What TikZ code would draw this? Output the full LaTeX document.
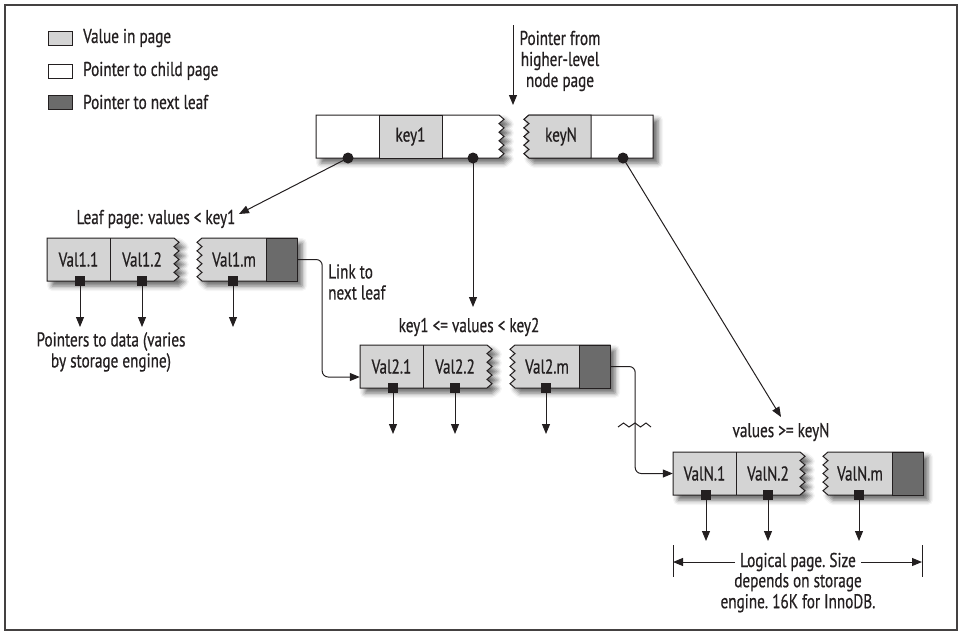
\documentclass[tikz,border=0pt]{standalone}
\usepackage{fontspec}
\setmainfont{PT Sans}[FakeStretch=0.76,FakeBold=0.6]
\usetikzlibrary{arrows.meta,shadows.blur,calc}
\definecolor{valfill}{gray}{0.83}
\definecolor{nextfill}{gray}{0.42}
\definecolor{ink}{HTML}{231F20}
\tikzset{
  every node/.style={font=\fontsize{20}{21}\selectfont, text=ink},
  ln/.style={draw=ink, line width=1pt},
  arr/.style={ln, -{Triangle[length=10pt,width=8pt]}},
  shad/.style={blur shadow={shadow xshift=5pt, shadow yshift=-5pt, shadow blur radius=5pt, shadow opacity=60}},
  cell/.style={minimum width=63pt, minimum height=43pt, inner sep=0pt},
  nextcell/.style={minimum width=31pt, minimum height=43pt, inner sep=0pt},
  sq/.style={fill=ink, minimum size=10pt, inner sep=0pt},
  pdot/.style={circle, fill=ink, minimum size=11pt, inner sep=0pt},
  legbox/.style={ln, minimum width=24pt, minimum height=14pt, inner sep=0pt},
  lbl/.style={inner sep=0pt},
}
\newcommand\leafpage[4]{%
  \draw[ln, fill=valfill, shad] (#2,#3) -- (#2+127,#3)
     \foreach \i in {1,...,10}{ -- ({#2+127+5*mod(\i,2)},{#3+4.3*\i}) } -- (#2,#3+43) -- cycle;
  \draw[ln, fill=valfill, shad] (#2+250,#3) -- (#2+155,#3)
     \foreach \i in {1,...,10}{ -- ({#2+155-5*mod(\i,2)},{#3+4.3*\i}) } -- (#2+250,#3+43) -- cycle;
  \draw[ln, fill=nextfill] (#2+219,#3) rectangle (#2+250,#3+43);
  \draw[ln] (#2+63,#3) -- (#2+63,#3+43);
  \node[cell] (#1a) at (#2+31.5,#3+21.5) {#4.1};
  \node[cell] (#1b) at (#2+95,#3+21.5) {#4.2};
  \node[cell] (#1m) at (#2+187,#3+21.5) {#4.m};
  \node[nextcell] (#1d) at (#2+234.5,#3+21.5) {};
  \node[sq] (#1s1) at (#2+33,#3+43) {};
  \node[sq] (#1s2) at (#2+95,#3+43) {};
  \node[sq] (#1s3) at (#2+186,#3+43) {};
  \coordinate (#1e1) at (#2+33,#3+89);
  \coordinate (#1e2) at (#2+95,#3+89);
  \coordinate (#1e3) at (#2+186,#3+89);
  \draw[arr] (#1s1) -- (#1e1);
  \draw[arr] (#1s2) -- (#1e2);
  \draw[arr] (#1s3) -- (#1e3);
}
\begin{document}
\begin{tikzpicture}[x=1pt,y=-1pt]
\useasboundingbox (0,0) rectangle (959,632);
\draw[line width=1.3pt, draw=ink!85] (5,5) rectangle (957,630);

% legend
\node[legbox, fill=valfill] (lb1) at (60,38) {};
\node[legbox, fill=white] (lb2) at (60,71) {};
\node[legbox, fill=nextfill] (lb3) at (60,102) {};
\node[lbl, anchor=west] (lg1) at (83,38) {Value in page};
\node[lbl, anchor=west] (lg2) at (83,71) {Pointer to child page};
\node[lbl, anchor=west] (lg3) at (83,102) {Pointer to next leaf};

% top node
\draw[ln, fill=white, shad] (316,115) -- (499,115)
   \foreach \i in {1,...,10}{ -- ({499+5*mod(\i,2)},{115+4.3*\i}) } -- (316,158) -- cycle;
\draw[ln, fill=valfill] (379,115) rectangle (442,158);
\draw[ln, fill=white, shad] (653,115) -- (529,115)
   \foreach \i in {1,...,10}{ -- ({529-5*mod(\i,2)},{115+4.3*\i}) } -- (653,158) -- cycle;
\draw[ln, fill=valfill] (591,115) -- (529,115)
   \foreach \i in {1,...,10}{ -- ({529-5*mod(\i,2)},{115+4.3*\i}) } -- (591,158) -- cycle;
\node[cell] (c0) at (347.5,136.5) {};
\node[cell] (key1) at (410.5,136.5) {key1};
\node[cell] (c1) at (470.5,136.5) {};
\node[cell] (keyN) at (561,136.5) {keyN};
\node[cell] (c2) at (622,136.5) {};

\node[lbl, align=center] (from) at (560,61) {Pointer from\\higher-level\\node page};
\coordinate (src) at (513,25);
\coordinate (srcend) at (513,105);
\draw[arr] (src) -- (srcend);

% leaves
\leafpage{la}{47}{238}{Val1}
\leafpage{lb}{360}{345}{Val2}
\leafpage{lc}{673}{452}{ValN}

% labels
\node[lbl] (t1lbl) at (156,219) {Leaf page: values < key1};
\node[lbl] (t2lbl) at (469,327) {key1 <= values < key2};
\node[lbl] (t3lbl) at (781,432) {values >= keyN};
\node[lbl, anchor=west, align=left] (link) at (328,282) {Link to\\next leaf};
\node[lbl, align=center] (ptrs) at (111,352) {Pointers to data (varies\\by storage engine)};

% pointers from top node
\coordinate (a1) at (239,214);
\coordinate (a2) at (473,307);
\coordinate (a3) at (781,417);
\draw[arr] (348,158) -- (a1);
\draw[arr] (473,158) -- (a2);
\draw[arr] (623,158) -- (a3);
\node[pdot] (pd1) at (348,158) {};
\node[pdot] (pd2) at (473,158) {};
\node[pdot] (pd3) at (623,158) {};

% links between leaves
\draw[arr, rounded corners=6pt] (lad.east) -- ++(25,0) |- ([yshift=-10.5pt]lba.west);
\draw[arr, rounded corners=6pt] (lbd.east) -- ++(25,0) |- (lca.west);
\draw[ln] (618,427) -- (623.5,423) -- (629,427) -- (635,423) -- (640.5,427) -- (646,423) -- (651,427);

% logical page bracket
\draw[ln] (673,545) -- (673,577);
\draw[ln] (922,545) -- (922,577);
\coordinate (bl) at (673,562);
\coordinate (br) at (922,562);
\node[lbl, inner xsep=5pt] (lp1) at (798,562) {Logical page.\ Size};
\node[lbl, align=center, anchor=north] (lp2) at (798,573) {depends on storage\\engine.\ 16K for InnoDB.};
\draw[arr] (lp1.west) -- (bl);
\draw[arr] (lp1.east) -- (br);
\end{tikzpicture}
\end{document}
